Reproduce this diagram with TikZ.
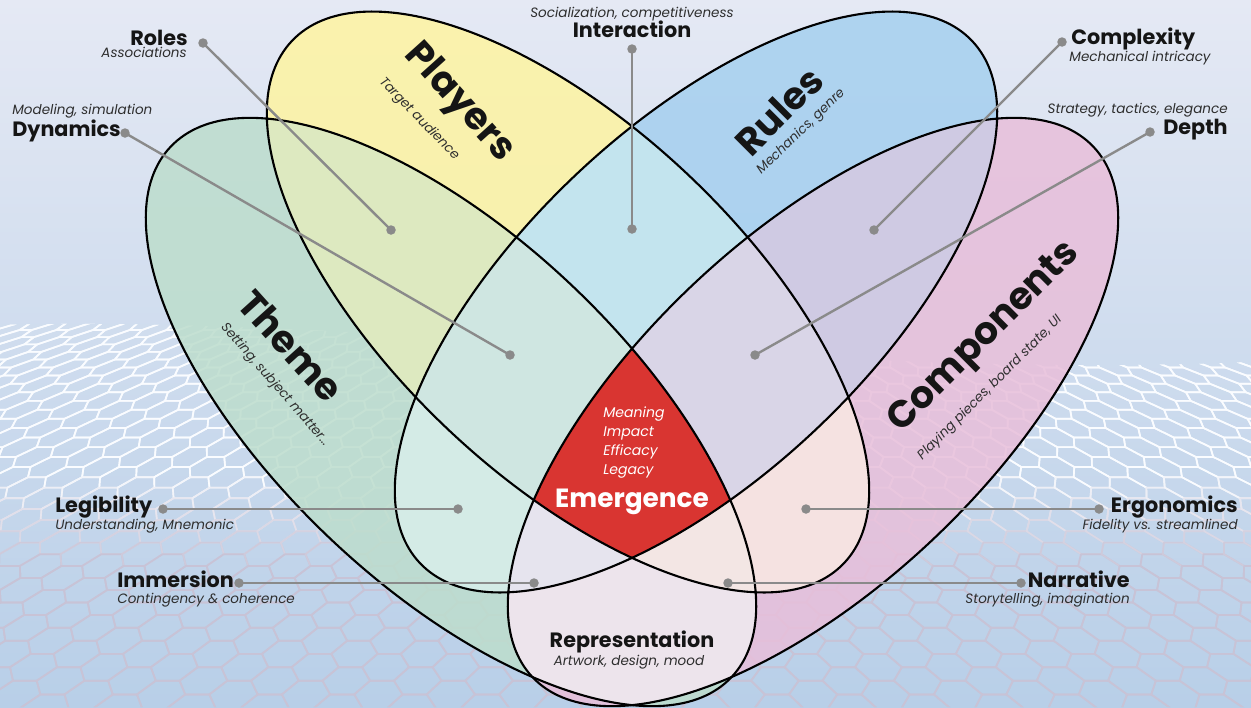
\documentclass[tikz,border=0pt]{standalone}
\usepackage{fontspec}
\setmainfont{Poppins}

% palette
\definecolor{bgTop}{HTML}{E5E9F4}
\definecolor{bgMid}{HTML}{C5D8EC}
\definecolor{bgBot}{HTML}{B8CFE8}
\definecolor{meshW}{HTML}{FAFCFF}
\definecolor{meshG}{HTML}{C8C3D6}
\definecolor{cT}{HTML}{BDDDCD}
\definecolor{cP}{HTML}{FEF4A2}
\definecolor{cR}{HTML}{A6D0EF}
\definecolor{cC}{HTML}{E8BFDA}
\definecolor{cTP}{HTML}{DDE9C0}
\definecolor{cTR}{HTML}{D4EBE6}
\definecolor{cTC}{HTML}{EDE4EC}
\definecolor{cPR}{HTML}{C3E4EE}
\definecolor{cPC}{HTML}{F5E2E1}
\definecolor{cRC}{HTML}{CFCAE3}
\definecolor{cTPR}{HTML}{CFE6E1}
\definecolor{cTPC}{HTML}{F3E6E4}
\definecolor{cTRC}{HTML}{E6E4EE}
\definecolor{cPRC}{HTML}{D9D5E7}
\definecolor{cAll}{HTML}{D93531}
\definecolor{leadgray}{HTML}{8A8A8A}
\definecolor{ink}{HTML}{151515}
\definecolor{subink}{HTML}{2E2E2E}

% the four ellipses (mirrored pairs)
\def\ellT{(451,412) ellipse [x radius=386, y radius=175]}
\def\ellP{(568,302) ellipse [x radius=380, y radius=175]}
\def\ellR{(696,302) ellipse [x radius=380, y radius=175]}
\def\ellC{(813,412) ellipse [x radius=386, y radius=175]}
\def\whole{(0,0) rectangle (1251,707)}

\begin{document}
\begin{tikzpicture}[x=0.02cm, y=-0.02cm,
  declare function={mX(\a,\b)=632+\a*(12.25+0.68*\b); mY(\b)=330+14*\b+0.39*\b*\b;},
  rT/.style={rotate around={-43.4:(451,412)}},
  rP/.style={rotate around={-43.4:(568,302)}},
  rR/.style={rotate around={43.4:(696,302)}},
  rC/.style={rotate around={43.4:(813,412)}},
  single/.style={fill opacity=0.86},
  outline/.style={draw=black, line width=1.2pt},
  leader/.style={draw=leadgray, line width=1.35pt},
  dot/.style={circle, fill=leadgray, inner sep=0pt, minimum size=0.19cm},
  hd/.style={font=\bfseries\fontsize{11.8}{14}\selectfont, text=ink, inner sep=0pt},
  sub/.style={font=\itshape\fontsize{7.7}{9}\selectfont, text=subink, inner sep=0pt},
  title/.style={font=\bfseries\fontsize{21.5}{24}\selectfont, text=ink, inner sep=0pt},
  tsub/.style={font=\itshape\fontsize{7.5}{9}\selectfont, text=subink, inner sep=0pt},
  emi/.style={font=\itshape\fontsize{8}{9}\selectfont, text=white, inner sep=0pt},
  emb/.style={font=\bfseries\fontsize{15}{17}\selectfont, text=white, inner sep=0pt},
]
\useasboundingbox \whole;

% background gradient
\shade[top color=bgTop, middle color=bgMid, bottom color=bgBot] \whole;

% hexagonal mesh receding towards the bottom
\begin{scope}
  \clip (0,325) .. controls (350,315) and (850,380) .. (1251,362) -- (1251,707) -- (0,707) -- cycle;
  \foreach \i in {-36,...,36}{
    \pgfmathtruncatemacro\oddcol{mod(abs(\i),2)}
    \pgfmathsetmacro\xc{1.5*\i}
    \foreach \j in {-1,...,19}{
      \pgfmathsetmacro\vc{\j+0.5*\oddcol}
      \pgfmathtruncatemacro\meshmix{max(0,min(100,(12.5-\vc)*25))}
      \draw[line width=0.95pt, draw=meshW!\meshmix!meshG, line join=round]
        ({mX(\xc-1,\vc)},{mY(\vc)}) -- ({mX(\xc-0.5,\vc-0.5)},{mY(\vc-0.5)})
        -- ({mX(\xc+0.5,\vc-0.5)},{mY(\vc-0.5)}) -- ({mX(\xc+1,\vc)},{mY(\vc)})
        -- ({mX(\xc+0.5,\vc+0.5)},{mY(\vc+0.5)}) -- ({mX(\xc-0.5,\vc+0.5)},{mY(\vc+0.5)}) -- cycle;
    }
  }
\end{scope}

% single sets (the mesh shows faintly through them)
\fill[cT, single, rT] \ellT;
\fill[cC, single, rC] \ellC;
\fill[cP, single, rP] \ellP;
\fill[cR, single, rR] \ellR;

% pairwise overlaps
\begin{scope}\clip[rT] \ellT; \fill[cTP, rP] \ellP; \end{scope}
\begin{scope}\clip[rT] \ellT; \fill[cTR, rR] \ellR; \end{scope}
\begin{scope}\clip[rT] \ellT; \fill[cTC, rC] \ellC; \end{scope}
\begin{scope}\clip[rP] \ellP; \fill[cPR, rR] \ellR; \end{scope}
\begin{scope}\clip[rP] \ellP; \fill[cPC, rC] \ellC; \end{scope}
\begin{scope}\clip[rR] \ellR; \fill[cRC, rC] \ellC; \end{scope}

% triple overlaps
\begin{scope}\clip[rT] \ellT; \clip[rP] \ellP; \fill[cTPR, rR] \ellR; \end{scope}
\begin{scope}\clip[rT] \ellT; \clip[rP] \ellP; \fill[cTPC, rC] \ellC; \end{scope}
\begin{scope}\clip[rT] \ellT; \clip[rR] \ellR; \fill[cTRC, rC] \ellC; \end{scope}
\begin{scope}\clip[rP] \ellP; \clip[rR] \ellR; \fill[cPRC, rC] \ellC; \end{scope}

% the core: all four
\begin{scope}\clip[rT] \ellT; \clip[rP] \ellP; \clip[rR] \ellR; \fill[cAll, rC] \ellC; \end{scope}

% outlines
\draw[outline, rT] \ellT;
\draw[outline, rP] \ellP;
\draw[outline, rR] \ellR;
\draw[outline, rC] \ellC;

% set titles
\node[title, rotate=-48] (players) at (459,103) {Players};
\node[tsub, rotate=-46] (players-s) at (419,119) {Target audience};
\node[title, rotate=45] (rules) at (779,111) {Rules};
\node[tsub, rotate=44] (rules-s) at (801,132) {Mechanics, genre};
\node[title, rotate=-48] (theme) at (291,346) {Theme};
\node[tsub, rotate=-49] (theme-s) at (275,385) {Setting, subject matter...};
\node[title, rotate=45] (components) at (985,338) {Components};
\node[tsub, rotate=45] (components-s) at (990,388) {Playing pieces, board state, UI};

% core text
\node[emi, anchor=base west] (em1) at (603,417) {Meaning};
\node[emi, anchor=base west] (em2) at (603,436) {Impact};
\node[emi, anchor=base west] (em3) at (603,455) {Efficacy};
\node[emi, anchor=base west] (em4) at (603,474) {Legacy};
\node[emb, anchor=base] (emergence) at (632,507) {Emergence};

% bottom region
\node[hd, anchor=base] (repr) at (632,647) {Representation};
\node[sub, anchor=base] (repr-s) at (629,665) {Artwork, design, mood};

% callouts, upper left
\node[hd, anchor=base east] (roles) at (188,45) {Roles};
\node[sub, anchor=base east] (roles-s) at (187,57) {Associations};
\node[dot] (roles-o) at (203,43) {};
\node[dot] (roles-i) at (391,230) {};
\draw[leader] (roles-o.center) -- (roles-i.center);

\node[sub, anchor=base west] (dyn-s) at (12,114) {Modeling, simulation};
\node[hd, anchor=base west] (dyn) at (12,136) {Dynamics};
\node[dot] (dyn-o) at (125,133) {};
\node[dot] (dyn-i) at (510,355) {};
\draw[leader] (dyn-o.center) -- (dyn-i.center);

% callout, top centre
\node[sub, anchor=base] (int-s) at (632,17) {Socialization, competitiveness};
\node[hd, anchor=base] (int) at (632,37) {Interaction};
\node[dot] (int-o) at (632,49) {};
\node[dot] (int-i) at (632,229) {};
\draw[leader] (int-o.center) -- (int-i.center);

% callouts, upper right
\node[hd, anchor=base west] (cpx) at (1071,44) {Complexity};
\node[sub, anchor=base west] (cpx-s) at (1069,61) {Mechanical intricacy};
\node[dot] (cpx-o) at (1062,42) {};
\node[dot] (cpx-i) at (874,230) {};
\draw[leader] (cpx-o.center) -- (cpx-i.center);

\node[sub, anchor=base east] (dep-s) at (1228,113) {Strategy, tactics, elegance};
\node[hd, anchor=base east] (dep) at (1228,134) {Depth};
\node[dot] (dep-o) at (1150,132) {};
\node[dot] (dep-i) at (755,355) {};
\draw[leader] (dep-o.center) -- (dep-i.center);

% callouts, lower left
\node[hd, anchor=base west] (leg) at (55,512) {Legibility};
\node[sub, anchor=base west] (leg-s) at (55,529) {Understanding, Mnemonic};
\node[dot] (leg-o) at (163,509) {};
\node[dot] (leg-i) at (458,509) {};
\draw[leader] (leg-o.center) -- (leg-i.center);

\node[hd, anchor=base west] (imm) at (117,587) {Immersion};
\node[sub, anchor=base west] (imm-s) at (117,603) {Contingency \& coherence};
\node[dot] (imm-o) at (239,583) {};
\node[dot] (imm-i) at (534,583) {};
\draw[leader] (imm-o.center) -- (imm-i.center);

% callouts, lower right
\node[hd, anchor=base east] (erg) at (1238,512) {Ergonomics};
\node[sub, anchor=base east] (erg-s) at (1238,529) {Fidelity vs. streamlined};
\node[dot] (erg-o) at (1099,509) {};
\node[dot] (erg-i) at (806,509) {};
\draw[leader] (erg-o.center) -- (erg-i.center);

\node[hd, anchor=base east] (nar) at (1130,587) {Narrative};
\node[sub, anchor=base east] (nar-s) at (1130,603) {Storytelling, imagination};
\node[dot] (nar-o) at (1021,583) {};
\node[dot] (nar-i) at (728,583) {};
\draw[leader] (nar-o.center) -- (nar-i.center);

\end{tikzpicture}
\end{document}
